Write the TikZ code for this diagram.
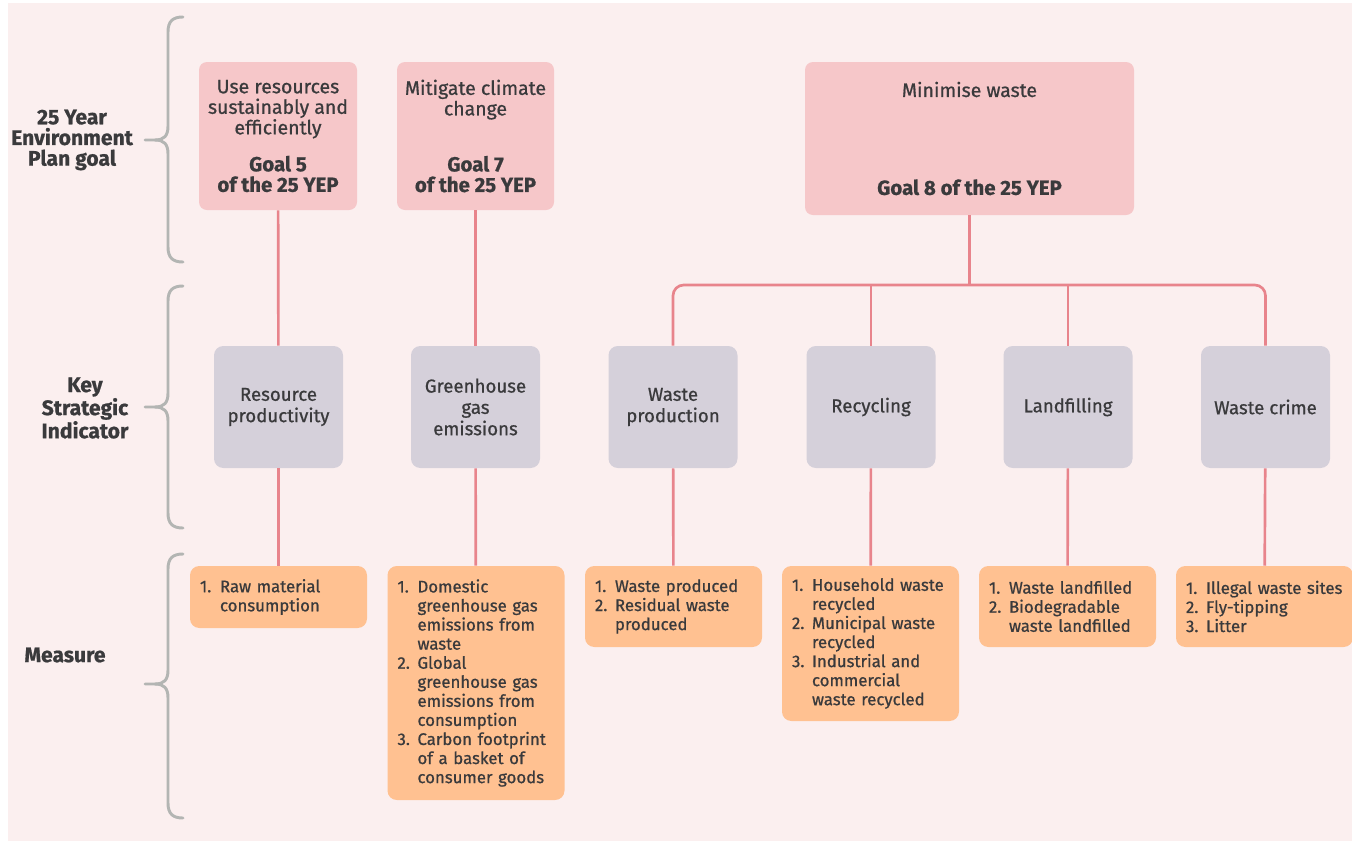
\documentclass[tikz,border=0pt]{standalone}
\usepackage{fontspec}
\setmainfont{Fira Sans}[FakeBold=0.8]
\definecolor{bgc}{HTML}{FBEFEF}
\definecolor{goalc}{HTML}{F6C7C9}
\definecolor{ksic}{HTML}{D5D0DA}
\definecolor{measc}{HTML}{FFC191}
\definecolor{linec}{HTML}{E8848C}
\definecolor{bracec}{HTML}{B3B5B3}
\definecolor{txtc}{HTML}{3A3A3C}
\newcommand\nm[1]{\makebox[15pt][l]{#1}}
\newcommand\ind{\hspace*{15pt}}
\newcommand\gb[1]{{\fontsize{15.3}{15.4}\selectfont\bfseries #1}}
\tikzset{
  goalbox/.style={rounded corners=6pt, fill=goalc, text=txtc, align=center,
    font=\fontsize{14.6}{15.4}\selectfont, inner sep=0pt},
  ksibox/.style={rounded corners=7pt, fill=ksic, text=txtc, align=center,
    font=\fontsize{14}{16}\selectfont, minimum width=96.75pt, minimum height=91.5pt, inner sep=0pt},
  measbox/.style={rounded corners=7pt, fill=measc, text=txtc, align=left,
    font=\fontsize{12.6}{14.3}\selectfont, text width=117.75pt, inner xsep=7.5pt, inner ysep=0pt,
    minimum width=132.75pt},
  sidelabel/.style={text=txtc, align=center, font=\bfseries\fontsize{15.8}{15.5}\selectfont},
  conn/.style={draw=linec, line width=2pt},
  bracel/.style={draw=bracec, line width=2.2pt, line cap=round}
}
\begin{document}
\begin{tikzpicture}[x=0.75pt, y=-0.75pt]
\useasboundingbox (0,0) rectangle (1352,843);
\fill[bgc] (8,3) rectangle (1352,841);

% side labels
\node[sidelabel] (lab1) at (72,140) {25 Year\\Environment\\Plan goal};
\node[sidelabel] (lab2) at (85,408) {Key\\Strategic\\Indicator};
\node[sidelabel] (lab3) at (65,655) {Measure};

% braces
\draw[bracel] (183,17) .. controls (173,17) and (168,21) .. (168,32) -- (168,126)
  .. controls (168,136) and (164,140) .. (155,140) -- (145,140);
\draw[bracel] (155,140) .. controls (164,140) and (168,144) .. (168,154) -- (168,247)
  .. controls (168,258) and (173,262) .. (183,262);
\draw[bracel] (183,286) .. controls (173,286) and (168,290) .. (168,301) -- (168,393)
  .. controls (168,403) and (164,407) .. (155,407) -- (145,407);
\draw[bracel] (155,407) .. controls (164,407) and (168,411) .. (168,421) -- (168,513)
  .. controls (168,524) and (173,528) .. (183,528);
\draw[bracel] (183,554) .. controls (173,554) and (168,558) .. (168,569) -- (168,670)
  .. controls (168,680) and (164,684) .. (155,684) -- (145,684);
\draw[bracel] (155,684) .. controls (164,684) and (168,688) .. (168,698) -- (168,803)
  .. controls (168,814) and (173,818) .. (183,818);

% goals
\node[goalbox, minimum width=118.5pt, minimum height=111pt] (g5) at (278,136)
  {Use resources\\sustainably and\\efficiently\\[12.3pt]\gb{Goal 5}\\\gb{of the 25 YEP}};
\node[goalbox, minimum width=117.75pt, minimum height=111pt] (g7) at (475.5,136)
  {Mitigate climate\\change\\[26.6pt]\gb{Goal 7}\\\gb{of the 25 YEP}};
\node[goalbox, minimum width=246.75pt, minimum height=114.75pt] (g8) at (969.5,138.5)
  {Minimise waste\\[58pt]\gb{Goal 8 of the 25 YEP}};

% KSIs
\node[ksibox] (k1) at (278.5,407) {Resource\\productivity};
\node[ksibox] (k2) at (475.5,407) {Greenhouse\\gas\\emissions};
\node[ksibox] (k3) at (673,407) {Waste\\production};
\node[ksibox] (k4) at (871,407) {Recycling};
\node[ksibox] (k5) at (1068,407) {Landfilling};
\node[ksibox] (k6) at (1265.5,407) {Waste crime};

% measures
\node[measbox, minimum height=46.5pt] (m1) at (278.5,597)
  {\nm{1.}Raw material\\\ind consumption};
\node[measbox, minimum height=175.5pt] (m2) at (476,683)
  {\nm{1.}Domestic\\\ind greenhouse gas\\\ind emissions from\\\ind waste\\
   \nm{2.}Global\\\ind greenhouse gas\\\ind emissions from\\\ind consumption\\
   \nm{3.}Carbon footprint\\\ind of a basket of\\\ind consumer goods};
\node[measbox, minimum height=60.75pt] (m3) at (673.5,606.5)
  {\nm{1.}Waste produced\\\nm{2.}Residual waste\\\ind produced};
\node[measbox, minimum height=116.25pt] (m4) at (870.5,643.5)
  {\nm{1.}Household waste\\\ind recycled\\\nm{2.}Municipal waste\\\ind recycled\\
   \nm{3.}Industrial and\\\ind commercial\\\ind waste recycled};
\node[measbox, minimum height=60.75pt] (m5) at (1067.5,606.5)
  {\nm{1.}Waste landfilled\\\nm{2.}Biodegradable\\\ind waste landfilled};
\node[measbox, minimum height=60.75pt] (m6) at (1264.5,606.5)
  {\nm{1.}Illegal waste sites\\\nm{2.}Fly-tipping\\\nm{3.}Litter};

% connectors
\coordinate (bar) at (969.5,285);
\draw[conn] (g5) -- (k1);
\draw[conn] (k1) -- (m1);
\draw[conn] (g7) -- (k2);
\draw[conn] (k2) -- (m2);
\draw[conn] (g8.south) -- (bar);
\draw[conn, rounded corners=8pt] (k3.north) |- (bar) -| (k6.north);
\draw[conn] (k4.north) -- (k4.north |- bar);
\draw[conn] (k5.north) -- (k5.north |- bar);
\draw[conn] (k3) -- (m3);
\draw[conn] (k4) -- (m4);
\draw[conn] (k5) -- (m5);
\draw[conn] (k6) -- (m6);
\end{tikzpicture}
\end{document}
